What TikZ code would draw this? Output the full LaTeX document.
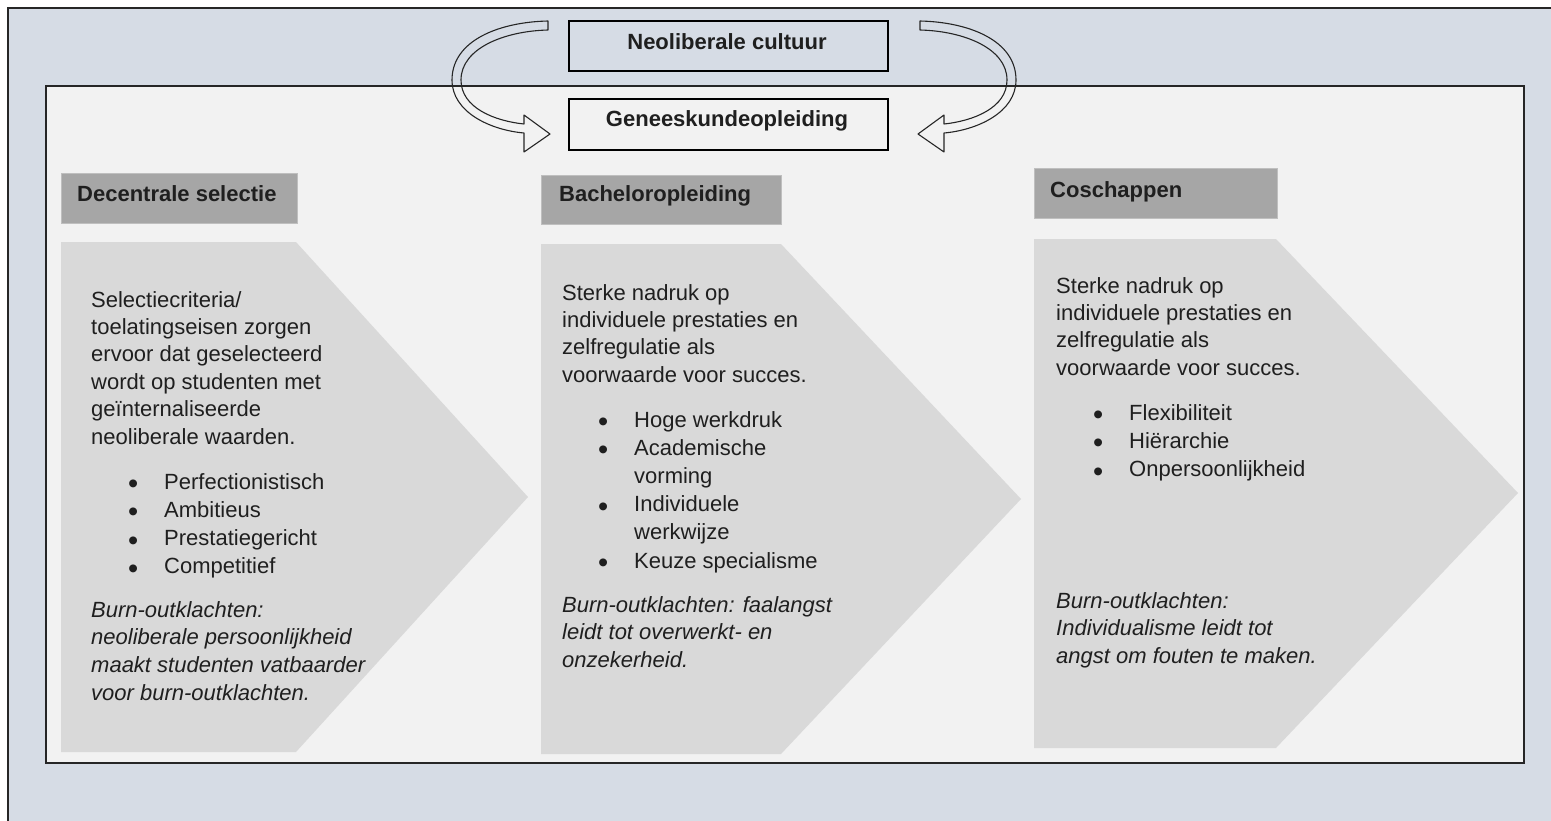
\documentclass[tikz,border=0pt]{standalone}
\usepackage{fontspec}
\setmainfont{Liberation Sans}
\definecolor{outerbg}{HTML}{D6DCE5}
\definecolor{innerbg}{HTML}{F2F2F2}
\definecolor{hdrfill}{HTML}{A6A6A6}
\definecolor{chevfill}{HTML}{D9D9D9}
\definecolor{textcol}{HTML}{1F1F1F}
\newcommand\bigbullet{\raisebox{-4.5pt}{\fontsize{29}{29}\selectfont\textbullet}}
\newcommand\bul[1]{\makebox[36pt][l]{\bigbullet}#1}
\newcommand\cont[1]{\hspace*{36pt}#1}
\begin{document}
\begin{tikzpicture}[x=1pt,y=-1pt,
  frame/.style={draw=black!85, line width=1.6pt},
  topbox/.style={draw=black, line width=1.3pt},
  hdrbox/.style={fill=hdrfill, draw=black!25, line width=0.8pt},
  chev/.style={fill=chevfill},
  bodytext/.style={font=\fontsize{22}{27.4}\selectfont, text=textcol, inner sep=0pt, anchor=north west, align=left},
  listtext/.style={bodytext, font=\fontsize{22}{28.2}\selectfont},
  itext/.style={bodytext, font=\fontsize{22}{27.7}\selectfont\itshape},
  hdrtext/.style={font=\fontsize{22}{26}\selectfont\bfseries, text=textcol, inner sep=0pt, anchor=base west},
  toptext/.style={font=\fontsize{22}{26}\selectfont\bfseries, text=textcol, inner sep=0pt, anchor=base},
  arrowline/.style={draw=black!85, line width=1.1pt, line join=round}]
\useasboundingbox (0,0) rectangle (1551,820);
\clip (0,0) rectangle (1551,820);
\fill[white] (0,0) rectangle (1551,820);
% frames
\draw[frame, fill=outerbg] (8,8) rectangle (1600,900);
\draw[frame, fill=innerbg] (46,86) rectangle (1524,763);
% top boxes
\draw[topbox, fill=outerbg] (569,21) rectangle (888,71);
\node[toptext] (neo) at (727,49) {Neoliberale cultuur};
\draw[topbox, fill=innerbg] (569,99) rectangle (888,150);
\node[toptext] (gen) at (727,126) {Geneeskundeopleiding};
% curved block arrows
\draw[arrowline] (548,21) .. controls (500,22) and (452,40) .. (452,80)
  .. controls (452,112) and (490,130) .. (524,133)
  -- (524,152) -- (550,134) -- (524,115) -- (524,124)
  .. controls (495,121) and (461,108) .. (461,80)
  .. controls (461,48) and (505,31) .. (548,30) -- cycle;
\begin{scope}[xshift=1468pt, xscale=-1]
\draw[arrowline] (548,21) .. controls (500,22) and (452,40) .. (452,80)
  .. controls (452,112) and (490,130) .. (524,133)
  -- (524,152) -- (550,134) -- (524,115) -- (524,124)
  .. controls (495,121) and (461,108) .. (461,80)
  .. controls (461,48) and (505,31) .. (548,30) -- cycle;
\end{scope}
% headers
\draw[hdrbox] (61,173) rectangle (297,223);
\node[hdrtext] (h1) at (77,201) {Decentrale selectie};
\draw[hdrbox] (541,175) rectangle (781,224);
\node[hdrtext] (h2) at (559,201) {Bacheloropleiding};
\draw[hdrbox] (1034,168) rectangle (1277,218);
\node[hdrtext] (h3) at (1050,197) {Coschappen};
% chevrons
\fill[chev] (61,242) -- (296,242) -- (528,497) -- (296,752) -- (61,752) -- cycle;
\fill[chev] (541,244) -- (781,244) -- (1021,499) -- (781,754) -- (541,754) -- cycle;
\fill[chev] (1034,239) -- (1276,239) -- (1518,493) -- (1276,748) -- (1034,748) -- cycle;
% chevron 1 text
\node[bodytext] (p1) at (91,291) {Selectiecriteria/\\toelatingseisen zorgen\\ervoor dat geselecteerd\\wordt op studenten met\\geïnternaliseerde\\neoliberale waarden.};
\node[listtext] (l1) at (128,473) {\bul{Perfectionistisch}\\\bul{Ambitieus}\\\bul{Prestatiegericht}\\\bul{Competitief}};
\node[itext] (i1) at (91,601) {Burn-outklachten:\\neoliberale persoonlijkheid\\maakt studenten vatbaarder\\voor burn-outklachten.};
% chevron 2 text
\node[bodytext] (p2) at (562,284) {Sterke nadruk op\\individuele prestaties en\\zelfregulatie als\\voorwaarde voor succes.};
\node[listtext] (l2) at (598,411) {\bul{Hoge werkdruk}\\\bul{Academische}\\\cont{vorming}\\\bul{Individuele}\\\cont{werkwijze}\\\bul{Keuze specialisme}};
\node[itext] (i2) at (562,596) {Burn-outklachten: faalangst\\leidt tot overwerkt- en\\onzekerheid.};
% chevron 3 text
\node[bodytext] (p3) at (1056,277) {Sterke nadruk op\\individuele prestaties en\\zelfregulatie als\\voorwaarde voor succes.};
\node[listtext] (l3) at (1093,404) {\bul{Flexibiliteit}\\\bul{Hiërarchie}\\\bul{Onpersoonlijkheid}};
\node[itext] (i3) at (1056,592) {Burn-outklachten:\\Individualisme leidt tot\\angst om fouten te maken.};
\end{tikzpicture}
\end{document}
